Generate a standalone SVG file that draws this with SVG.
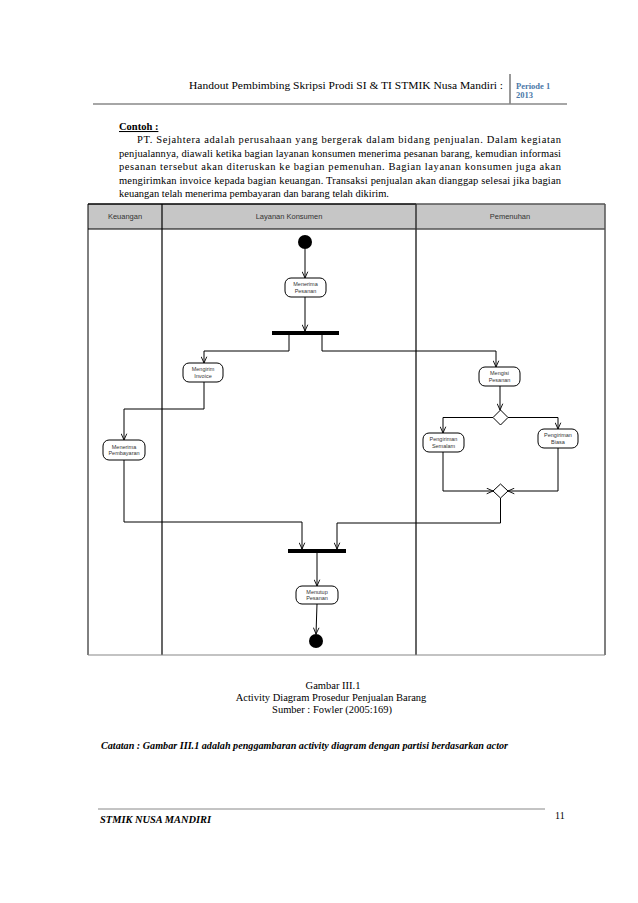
<svg xmlns="http://www.w3.org/2000/svg" width="638" height="903" viewBox="0 0 638 903">
<style>
.doc{font-family:"Liberation Serif","Times New Roman",serif;fill:#000}
.lane{font-family:"Liberation Sans",Arial,sans-serif;font-size:7.5px;fill:#333;text-anchor:middle}
.node rect{fill:#fff;stroke:#000;stroke-width:1}
.node text{font-family:"Liberation Sans",Arial,sans-serif;font-size:5.5px;fill:#333;text-anchor:middle}
.conn path{fill:none;stroke:#000;stroke-width:1}
.bar{fill:#000}
</style>
<defs>
<marker id="arr" viewBox="0 0 10 10" refX="10" refY="5" markerWidth="7" markerHeight="7" markerUnits="userSpaceOnUse" orient="auto">
<path d="M1,1 L10,5 L1,9" fill="none" stroke="#000" stroke-width="1.3"/>
</marker>
</defs>
<rect width="638" height="903" fill="#fff"/>

<g id="page-header">
<text class="doc" x="189" y="89" font-size="11" textLength="314" lengthAdjust="spacingAndGlyphs">Handout Pembimbing Skripsi Prodi SI &amp; TI STMIK Nusa Mandiri :</text>
<line x1="510" y1="74" x2="510" y2="104" stroke="#777" stroke-width="1.5"/>
<text x="516" y="89" font-family="Liberation Serif,serif" font-size="8.5" font-weight="bold" fill="#4a78a8">Periode 1</text>
<text x="516" y="98" font-family="Liberation Serif,serif" font-size="8.5" font-weight="bold" fill="#4a78a8">2013</text>
<line x1="93" y1="104" x2="567" y2="104" stroke="#888" stroke-width="1.5"/>
</g>

<g id="paragraph" class="doc" font-size="10.5">
<text x="119" y="130" font-weight="bold" text-decoration="underline">Contoh :</text>
<text x="137" y="143" textLength="424" lengthAdjust="spacing">PT. Sejahtera adalah perusahaan yang bergerak dalam bidang penjualan. Dalam kegiatan</text>
<text x="119" y="156.5" textLength="442" lengthAdjust="spacing">penjualannya, diawali ketika bagian layanan konsumen menerima pesanan barang, kemudian informasi</text>
<text x="119" y="170" textLength="442" lengthAdjust="spacing">pesanan tersebut akan diteruskan ke bagian pemenuhan. Bagian layanan konsumen juga akan</text>
<text x="119" y="183.5" textLength="442" lengthAdjust="spacing">mengirimkan invoice kepada bagian keuangan. Transaksi penjualan akan dianggap selesai jika bagian</text>
<text x="119" y="197">keuangan telah menerima pembayaran dan barang telah dikirim.</text>
</g>

<g id="swimlanes">
<rect x="88" y="204" width="517" height="25" fill="#c6c6c6" stroke="none"/>
<line x1="88" y1="204" x2="416" y2="204" stroke="#000" stroke-width="1.5"/>
<line x1="416" y1="204" x2="605" y2="204" stroke="#555" stroke-width="1.5"/>
<line x1="88" y1="229" x2="416" y2="229" stroke="#000" stroke-width="1"/>
<line x1="416" y1="229" x2="605" y2="229" stroke="#555" stroke-width="1.5"/>
<line x1="88" y1="204" x2="88" y2="655" stroke="#000" stroke-width="1"/>
<line x1="162" y1="204" x2="162" y2="655" stroke="#000" stroke-width="1.2"/>
<line x1="416" y1="204" x2="416" y2="655" stroke="#333" stroke-width="1.5"/>
<line x1="605" y1="204" x2="605" y2="655" stroke="#555" stroke-width="1.5"/>
<line x1="88" y1="655" x2="605" y2="655" stroke="#888" stroke-width="1.2"/>
<text class="lane" x="125" y="219">Keuangan</text>
<text class="lane" x="289" y="219">Layanan Konsumen</text>
<text class="lane" x="510" y="219">Pemenuhan</text>
</g>

<g id="connectors" class="conn">
<path d="M305,249 V278" marker-end="url(#arr)"/>
<path d="M305,297 V331" marker-end="url(#arr)"/>
<path d="M289,335 V351 H204 V363" marker-end="url(#arr)"/>
<path d="M322,335 V351 H496 V367" marker-end="url(#arr)"/>
<path d="M204,382 V409 H124 V440" marker-end="url(#arr)"/>
<path d="M500,386 V410" marker-end="url(#arr)"/>
<path d="M493,417.5 H443 V433" marker-end="url(#arr)"/>
<path d="M508,417.5 H558 V429" marker-end="url(#arr)"/>
<path d="M443,452 V491 H493" marker-end="url(#arr)"/>
<path d="M558,448 V491 H508" marker-end="url(#arr)"/>
<path d="M124,460 V522 H302 V549" marker-end="url(#arr)"/>
<path d="M500.5,498 V523 H337 V549" marker-end="url(#arr)"/>
<path d="M317,553 V586" marker-end="url(#arr)"/>
<path d="M317,604 L316,634" marker-end="url(#arr)"/>
</g>

<g id="start"><circle cx="305" cy="242" r="7" fill="#000"/></g>

<g id="menerima-pesanan" class="node">
<rect x="285" y="278" width="41" height="19" rx="6"/>
<text x="305.5" y="286">Menerima</text><text x="305.5" y="292.5">Pesanan</text>
</g>

<g id="fork"><rect class="bar" x="272" y="331" width="67" height="4"/></g>

<g id="mengirim-invoice" class="node">
<rect x="183" y="363" width="40" height="19" rx="6"/>
<text x="203" y="371">Mengirim</text><text x="203" y="377.5">Invoice</text>
</g>

<g id="mengisi-pesanan" class="node">
<rect x="479" y="367" width="41" height="19" rx="6"/>
<text x="499.5" y="375">Mengisi</text><text x="499.5" y="381.5">Pesanan</text>
</g>

<g id="decision"><polygon points="500.5,410 508,417.5 500.5,425 493,417.5" fill="#fff" stroke="#000" stroke-width="1"/></g>

<g id="pengiriman-semalam" class="node">
<rect x="423" y="433" width="41" height="19" rx="6"/>
<text x="443.5" y="441">Pengiriman</text><text x="443.5" y="447.5">Semalam</text>
</g>

<g id="pengiriman-biasa" class="node">
<rect x="538" y="429" width="40" height="19" rx="6"/>
<text x="558" y="437">Pengiriman</text><text x="558" y="443.5">Biasa</text>
</g>

<g id="merge"><polygon points="500.5,484 508,491 500.5,498 493,491" fill="#fff" stroke="#000" stroke-width="1"/></g>

<g id="menerima-pembayaran" class="node">
<rect x="103" y="440" width="42" height="20" rx="6"/>
<text x="124" y="448.5">Menerima</text><text x="124" y="455">Pembayaran</text>
</g>

<g id="join"><rect class="bar" x="288" y="549" width="58" height="4"/></g>

<g id="menutup-pesanan" class="node">
<rect x="296" y="586" width="42" height="18" rx="6"/>
<text x="317" y="593.5">Menutup</text><text x="317" y="600">Pesanan</text>
</g>

<g id="end"><circle cx="316" cy="641" r="7" fill="#000"/></g>

<g id="caption" class="doc" font-size="10.5" text-anchor="middle">
<text x="333" y="689">Gambar III.1</text>
<text x="331" y="701">Activity Diagram Prosedur Penjualan Barang</text>
<text x="332" y="713">Sumber : Fowler (2005:169)</text>
</g>
<text class="doc" x="101" y="749" font-size="10.5" font-weight="bold" font-style="italic" textLength="407" lengthAdjust="spacingAndGlyphs">Catatan : Gambar III.1 adalah penggambaran activity diagram dengan partisi berdasarkan actor</text>

<g id="footer">
<line x1="98" y1="809" x2="545" y2="809" stroke="#888" stroke-width="1"/>
<text class="doc" x="100" y="823" font-size="11" font-weight="bold" font-style="italic" textLength="111" lengthAdjust="spacingAndGlyphs">STMIK NUSA MANDIRI</text>
<text class="doc" x="555" y="819" font-size="10">11</text>
</g>
</svg>
